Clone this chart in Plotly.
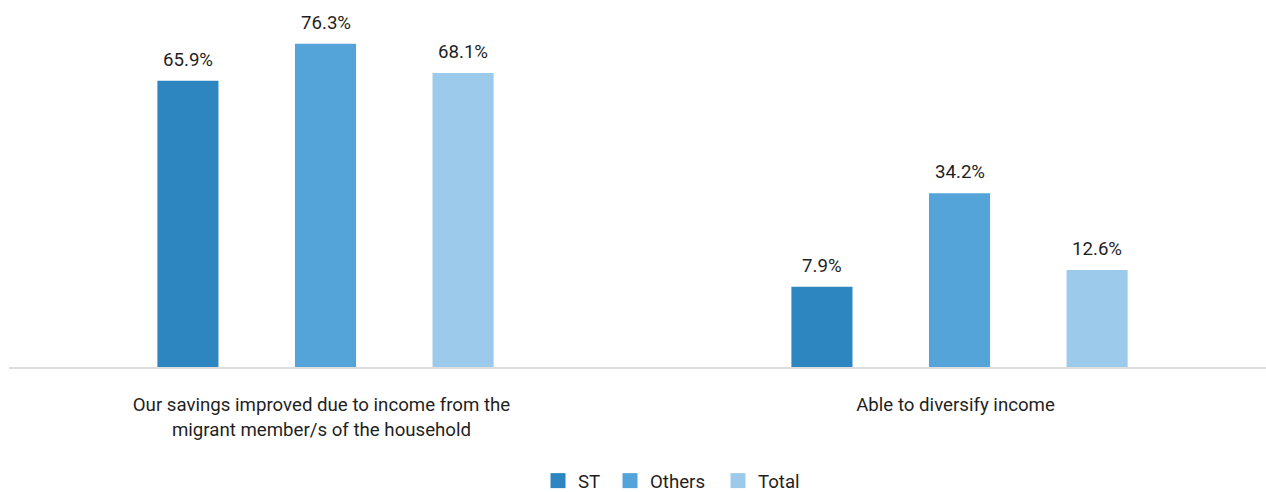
import plotly.graph_objects as go

categories = ["Our savings improved due to income from the<br>migrant member/s of the household",
              "Able to diversify income"]
series_names = ["ST", "Others", "Total"]
st_values = [65.9, 7.9]
others_values = [76.3, 34.2]
total_values = [68.1, 12.6]
colors = ["#2E86C1", "#54A3D9", "#9BCAEA"]

series_values = [st_values, others_values, total_values]

Y_MIN = -14.7
Y_MAX = 83.0
BARGAP = 0.349
GROUPGAP = 0.556
FONT = "Roboto"
TXT = "#1f1f1f"
FS = 18.67
L_MARGIN = 9
PLOT_W = 1266 - L_MARGIN
LEGEND_LEFT_PX = [538, 610, 718]
legend_ids = ["legend", "legend2", "legend3"]

fig = go.Figure()
for name, vals, col, lid in zip(series_names, series_values, colors, legend_ids):
    fig.add_trace(go.Bar(
        name=name, x=categories, y=[v - Y_MIN for v in vals], base=Y_MIN,
        marker=dict(color=col, line=dict(width=0)),
        showlegend=False, hoverinfo="skip",
    ))
    # legend proxy
    fig.add_trace(go.Scatter(
        name=name, x=[None], y=[None], mode="markers",
        marker=dict(symbol="square", size=15, color=col, line=dict(width=0)),
        showlegend=True, legend=lid,
    ))

n = len(series_names)
slot = (1 - BARGAP) / n
annotations = []
for i, vals in enumerate(series_values):
    for k, v in enumerate(vals):
        annotations.append(dict(
            x=k + (i - (n - 1) / 2) * slot, y=v, xref="x", yref="y",
            text=f"{v:.1f}%", showarrow=False, yanchor="bottom",
            yshift=8, font=dict(family=FONT, size=FS, color=TXT),
        ))

legend_cfg = {}
for lid, px in zip(legend_ids, LEGEND_LEFT_PX):
    legend_cfg[lid] = dict(orientation="h", x=(px - L_MARGIN) / PLOT_W, xanchor="left",
                           y=-0.3285, yanchor="middle", bgcolor="rgba(0,0,0,0)",
                           font=dict(family=FONT, size=FS, color=TXT), itemclick=False)

fig.update_layout(
    barmode="group", bargap=BARGAP, bargroupgap=GROUPGAP,
    width=1266, height=492,
    margin=dict(l=L_MARGIN, r=0, t=20, b=125, autoexpand=False),
    paper_bgcolor="white", plot_bgcolor="white",
    font=dict(family=FONT, size=FS, color=TXT),
    annotations=annotations,
    xaxis=dict(range=[-0.4992, 1.4834], showline=True, linecolor="#DDDDDD", linewidth=2,
               showgrid=False, ticks="", ticklabelstandoff=20, ticklabelshift=-4,
               automargin=False,
               tickfont=dict(family=FONT, size=FS, color=TXT), fixedrange=True),
    yaxis=dict(range=[Y_MIN, Y_MAX], visible=False, showgrid=False, zeroline=False,
               fixedrange=True, automargin=False),
    **legend_cfg,
)

fig.write_html("out.html", config={"displayModeBar": False})
